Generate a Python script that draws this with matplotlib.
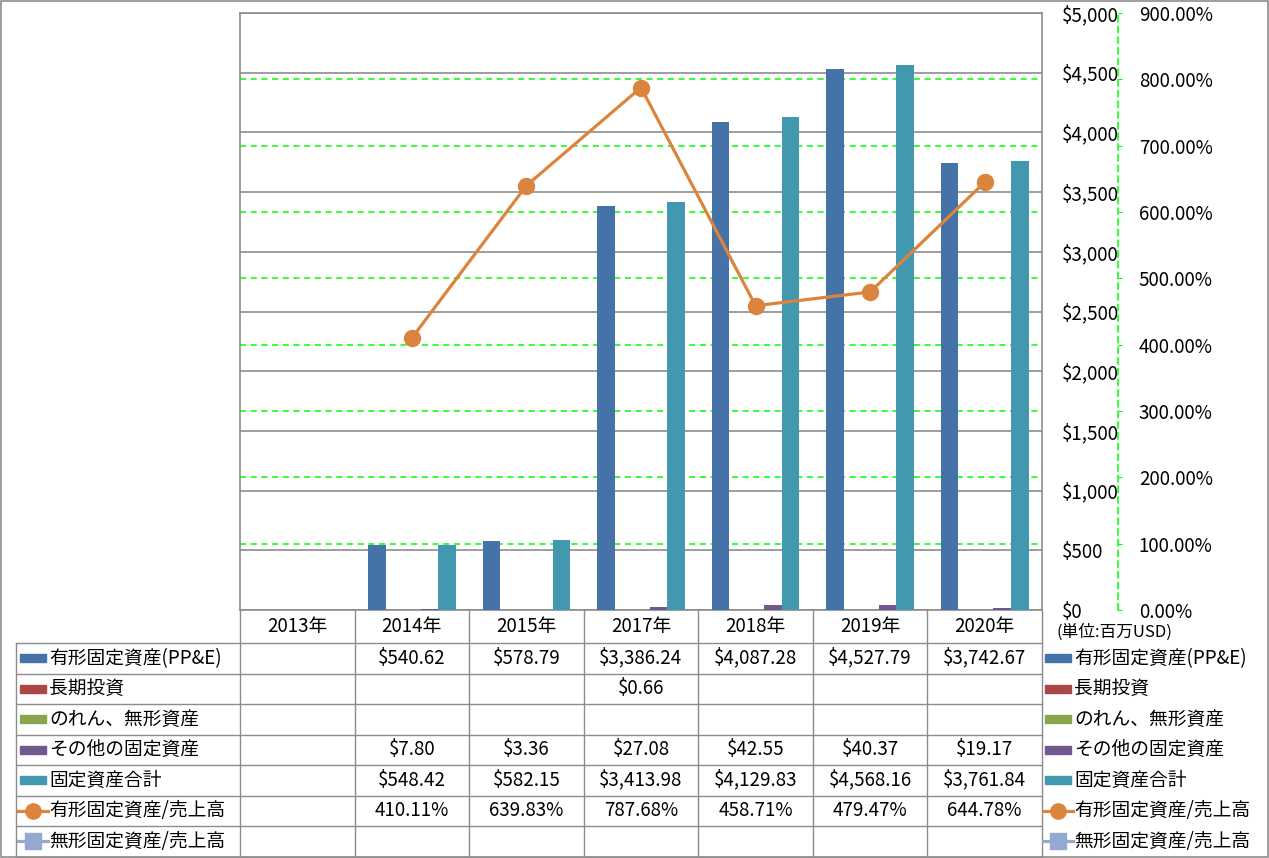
import numpy as np
import matplotlib
matplotlib.use("Agg")
import matplotlib.pyplot as plt
from matplotlib.patches import Rectangle

plt.rcParams["font.family"] = ["Noto Sans CJK JP", "DejaVu Sans"]

years = ["2013年", "2014年", "2015年", "2017年", "2018年", "2019年", "2020年"]
ppe = [np.nan, 540.62, 578.79, 3386.24, 4087.28, 4527.79, 3742.67]
lt_invest = [np.nan, np.nan, np.nan, 0.66, np.nan, np.nan, np.nan]
goodwill = [np.nan] * 7
other_fixed = [np.nan, 7.80, 3.36, 27.08, 42.55, 40.37, 19.17]
total_fixed = [np.nan, 548.42, 582.15, 3413.98, 4129.83, 4568.16, 3761.84]
ppe_ratio = [np.nan, 410.11, 639.83, 787.68, 458.71, 479.47, 644.78]
intang_ratio = [np.nan] * 7

bar_series = [
    ("有形固定資産(PP&E)", ppe, "#4572A7"),
    ("長期投資", lt_invest, "#AA4643"),
    ("のれん、無形資産", goodwill, "#89A54E"),
    ("その他の固定資産", other_fixed, "#71588F"),
    ("固定資産合計", total_fixed, "#4198AF"),
]
line_series = [
    ("有形固定資産/売上高", ppe_ratio, "#DB843D", "o"),
    ("無形固定資産/売上高", intang_ratio, "#93A9CF", "s"),
]

W, H = 1269, 858
FS = 13.5
fig = plt.figure(figsize=(W / 100, H / 100), dpi=100)

# plot area in pixels
L, R, T, B = 240, 1042, 13, 610
ax = fig.add_axes([L / W, 1 - B / H, (R - L) / W, (B - T) / H])
n = len(years)
x = np.arange(n)
bw = 0.153
for k, (name, vals, col) in enumerate(bar_series):
    ax.bar(x + (k - 2) * bw, vals, bw, color=col, zorder=3)

ax.set_xlim(-0.5, n - 0.5)
ax.set_ylim(0, 5000)
ax.set_xticks([])
ax.grid(axis="y", color="#8c8c8c", lw=1.2, zorder=1)
for sp in ax.spines.values():
    sp.set_color("#8c8c8c")
    sp.set_linewidth(1.2)

pct_ticks = np.arange(0, 901, 100)
for p in pct_ticks[1:-1]:
    ax.axhline(p / 900 * 5000, color="#00ff00", lw=1.1, ls=(0, (4, 3)), zorder=2)

ax2 = ax.twinx()
# dollar axis labels sit to the right of the plot
ax.yaxis.tick_right()
ax.set_yticks(np.arange(0, 5001, 500))
ax.set_yticklabels([f"${v:,.0f}" for v in np.arange(0, 5001, 500)])
ax.tick_params(axis="y", length=0, pad=14, labelsize=FS)

ax2.set_ylim(0, 900)
ax2.set_yticks(pct_ticks)
ax2.set_yticklabels([f"{p:.2f}%" for p in pct_ticks])
ax2.spines["right"].set_position(("outward", 76 * 0.72))
ax2.spines["right"].set_color("#00ff00")
ax2.spines["right"].set_linestyle((0, (4, 3)))
ax2.spines["right"].set_linewidth(1.1)
for s in ["left", "top", "bottom"]:
    ax2.spines[s].set_visible(False)
ax2.tick_params(axis="y", color="#00ff00", length=3, pad=12, labelsize=FS)
for name, vals, col, mk in line_series:
    ax2.plot(x, vals, color=col, lw=2.3, marker=mk, ms=11.5, zorder=4)

fig.text(1056 / W, 1 - 632 / H, "(単位:百万USD)", fontsize=12, va="center", ha="left")

# data table under the plot
tb = fig.add_axes([0, 0, 1, 1], zorder=-1)
tb.set_xlim(0, W)
tb.set_ylim(H, 0)
tb.axis("off")
gc = "#8c8c8c"
cw = (R - L) / n
row_h = 30.5
head_top, head_bot = B, 643
rows_top = [head_bot + i * row_h for i in range(len(bar_series) + len(line_series) + 1)]
bottom = rows_top[-1]

for i in range(n + 1):
    tb.plot([L + i * cw] * 2, [head_top, bottom], color=gc, lw=1)
tb.plot([16, 16], [head_bot, bottom], color=gc, lw=1)
for yy in rows_top:
    tb.plot([16, R], [yy, yy], color=gc, lw=1)
for i, yr in enumerate(years):
    tb.text(L + (i + 0.5) * cw, (head_top + head_bot) / 2, yr, ha="center", va="center", fontsize=FS)

def fmt_money(v):
    return "" if np.isnan(v) else f"${v:,.2f}"

def fmt_pct(v):
    return "" if np.isnan(v) else f"{v:.2f}%"

rows = [(nm, vals, col, None, fmt_money) for nm, vals, col in bar_series]
rows += [(nm, vals, col, mk, fmt_pct) for nm, vals, col, mk in line_series]

for r, (nm, vals, col, mk, f) in enumerate(rows):
    yc = rows_top[r] + row_h / 2
    for i, v in enumerate(vals):
        tb.text(L + (i + 0.5) * cw, yc, f(v), ha="center", va="center", fontsize=FS)
    for kx in (20, 1045):
        if mk is None:
            tb.add_patch(Rectangle((kx, yc - 4), 26, 8, color=col))
        else:
            tb.plot([kx - 2, kx + 28], [yc, yc], color=col, lw=2.3)
            tb.plot([kx + 13], [yc], marker=mk, color=col, ms=11)
        tb.text(kx + 29, yc, nm, ha="left", va="center", fontsize=FS)

# outer frame
tb.add_patch(Rectangle((0.5, 0.5), W - 1.5, H - 1.5, fill=False, ec=gc, lw=1.2))

fig.savefig("out.png", dpi=100)
